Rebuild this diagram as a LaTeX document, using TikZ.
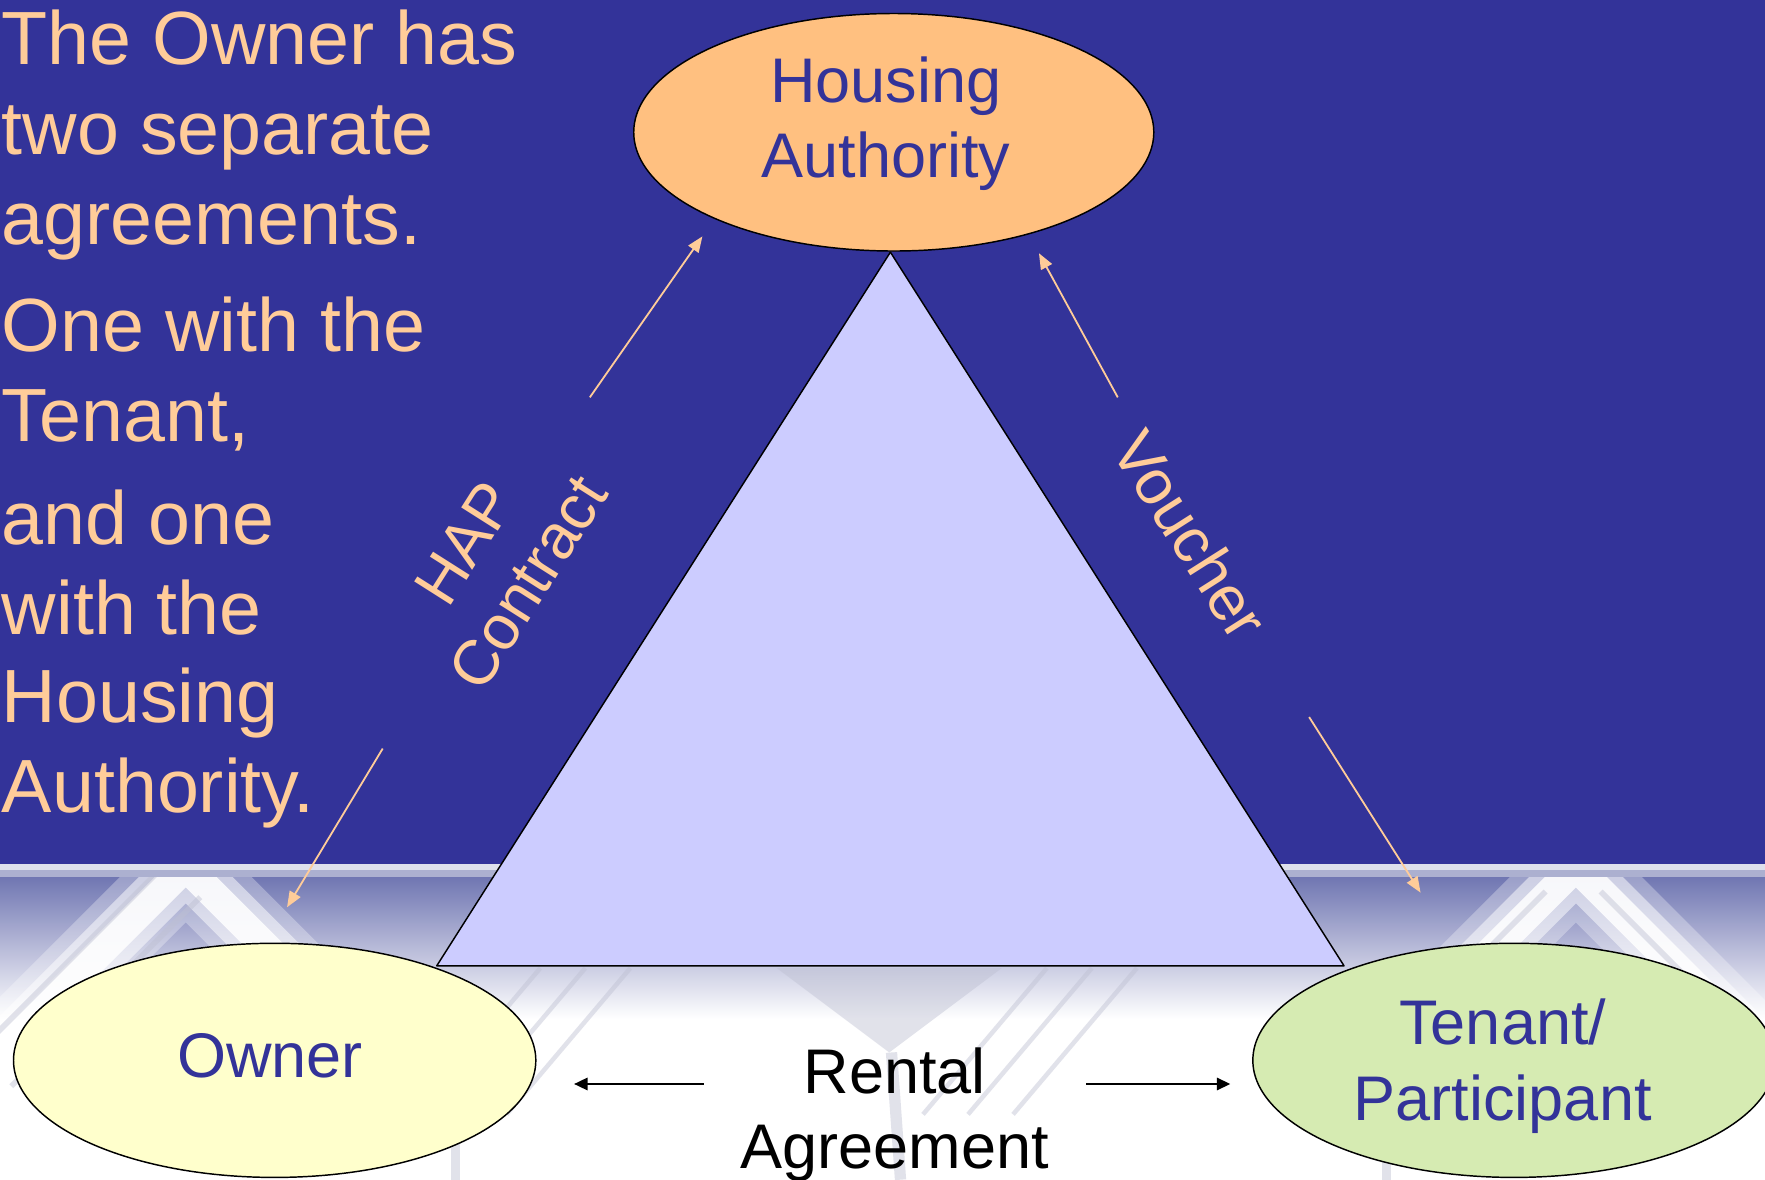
\documentclass[tikz,border=0pt]{standalone}
\usepackage{fontspec}
\setmainfont{Liberation Sans}
\usetikzlibrary{shapes.geometric,arrows.meta}
\definecolor{bgblue}{RGB}{51,51,153}
\definecolor{peach}{RGB}{255,204,153}
\definecolor{haorange}{RGB}{255,192,128}
\definecolor{ownyellow}{RGB}{255,255,204}
\definecolor{tengreen}{RGB}{214,235,178}
\definecolor{trifill}{RGB}{204,204,255}
\definecolor{patblue}{RGB}{112,118,178}
\definecolor{patband}{RGB}{222,224,236}
\definecolor{patband2}{RGB}{172,176,208}
\definecolor{patgrey}{RGB}{190,192,210}
\begin{document}
\begin{tikzpicture}[x=1pt,y=-1pt,
  bubble/.style={ellipse, draw=black, line width=1.3pt, inner sep=0pt},
  lefttext/.style={text=peach, font=\fontsize{67}{80}\selectfont, inner sep=0pt, anchor=base west},
  bubbletext/.style={text=bgblue, font=\fontsize{56}{67}\selectfont, inner sep=0pt, anchor=base},
  sidetext/.style={text=peach, font=\fontsize{56}{66}\selectfont, inner sep=0pt, align=center},
  peacharrow/.style={draw=peach, line width=1.6pt, -{Triangle[length=14pt,width=11pt]}},
  blackarrow/.style={draw=black, line width=1.8pt, -{Triangle[length=12pt,width=11pt]}},
  whitestripe/.style={draw=white, line cap=butt, line join=miter},
  greystripe/.style={draw=patgrey, opacity=0.45},
]
\useasboundingbox (0,0) rectangle (1568,1048);
\clip (0,0) rectangle (1568,1048);

% background
\fill[bgblue] (0,0) rectangle (1568,768);
\begin{scope}
\clip (0,768) rectangle (1568,1048);
\fill[white] (0,768) rectangle (1568,1048);
\shade[top color=patblue, bottom color=white] (0,779) rectangle (1568,905);
% texture: blurred chevrons
\foreach \w/\o in {70/0.3,46/0.5,26/0.85}{
  \draw[whitestripe, line width=\w pt, opacity=\o] (-40,975) -- (165,770) -- (370,975);
  \draw[whitestripe, line width=\w pt, opacity=\o] (1195,975) -- (1400,770) -- (1605,975);
}
\draw[greystripe, line width=5pt] (-10,925) -- (138,777);
\draw[greystripe, line width=5pt] (10,965) -- (178,797);
\draw[greystripe, line width=5pt] (1240,925) -- (1373,792);
\draw[greystripe, line width=5pt] (1422,792) -- (1568,938);
\fill[patgrey, opacity=0.45] (690,860) -- (790,935) -- (890,860) -- cycle;
\draw[greystripe, line width=10pt] (792,935) -- (800,1048);
\foreach \x in {480,520,560,930,970,1010}{
  \draw[greystripe, line width=4pt] (\x,860) -- (\x-110,990);
}
\draw[greystripe, line width=8pt] (405,1010) -- (405,1048);
\draw[greystripe, line width=8pt] (1232,1010) -- (1232,1048);
\fill[patband] (0,768) rectangle (1568,773);
\fill[patband2] (0,773) rectangle (1568,779);
\end{scope}

% triangle
\coordinate (apex) at (791,224);
\coordinate (bl) at (388,858);
\coordinate (br) at (1194,858);
\draw[fill=trifill, line width=1.3pt, line join=round] (apex) -- (bl) -- (br) -- cycle;

% ellipses
\node[bubble, fill=haorange, minimum width=462pt, minimum height=211pt] (ha) at (794,117.5) {};
\node[bubble, fill=ownyellow, minimum width=464pt, minimum height=208pt] (own) at (244,942) {};
\node[bubble, fill=tengreen, minimum width=464pt, minimum height=208pt] (ten) at (1345,942) {};

% ellipse texts
\node[bubbletext] (ha1) at (787,91) {Housing};
\node[bubbletext] (ha2) at (787,158) {Authority};
\node[bubbletext] (ow) at (240,957) {Owner};
\node[bubbletext] (te1) at (1335,928) {Tenant/};
\node[bubbletext] (te2) at (1335,995) {Participant};
\node[bubbletext, text=black] (re1) at (795,971) {Rental};
\node[bubbletext, text=black] (re2) at (795,1038) {Agreement};

% left text
\foreach \t/\y [count=\i] in {The Owner has/57, two separate/137, agreements./217,
  One with the/312, {Tenant,}/392, and one/484, with the/564, Housing/642, Authority./722}{
  \node[lefttext] (l\i) at (1.5,\y) {\t};
}

% rotated labels
\node[sidetext, rotate=57.6] (hap) at (441,500) {HAP\\Contract};
\node[sidetext, rotate=-57.6] (vou) at (1058,475) {Voucher};

% peach arrows
\coordinate (hapus) at (524,353);  \coordinate (hapue) at (624,210);
\coordinate (hapds) at (340,665);  \coordinate (hapde) at (255,806);
\coordinate (vouus) at (993,353);  \coordinate (vouue) at (923,225);
\coordinate (vouds) at (1163,637); \coordinate (voude) at (1262,793);
\draw[peacharrow] (hapus) -- (hapue);
\draw[peacharrow] (hapds) -- (hapde);
\draw[peacharrow] (vouus) -- (vouue);
\draw[peacharrow] (vouds) -- (voude);

% rental arrows
\coordinate (rls) at (625,963); \coordinate (rle) at (510,963);
\coordinate (rrs) at (965,963); \coordinate (rre) at (1093,963);
\draw[blackarrow] (rls) -- (rle);
\draw[blackarrow] (rrs) -- (rre);
\end{tikzpicture}
\end{document}
